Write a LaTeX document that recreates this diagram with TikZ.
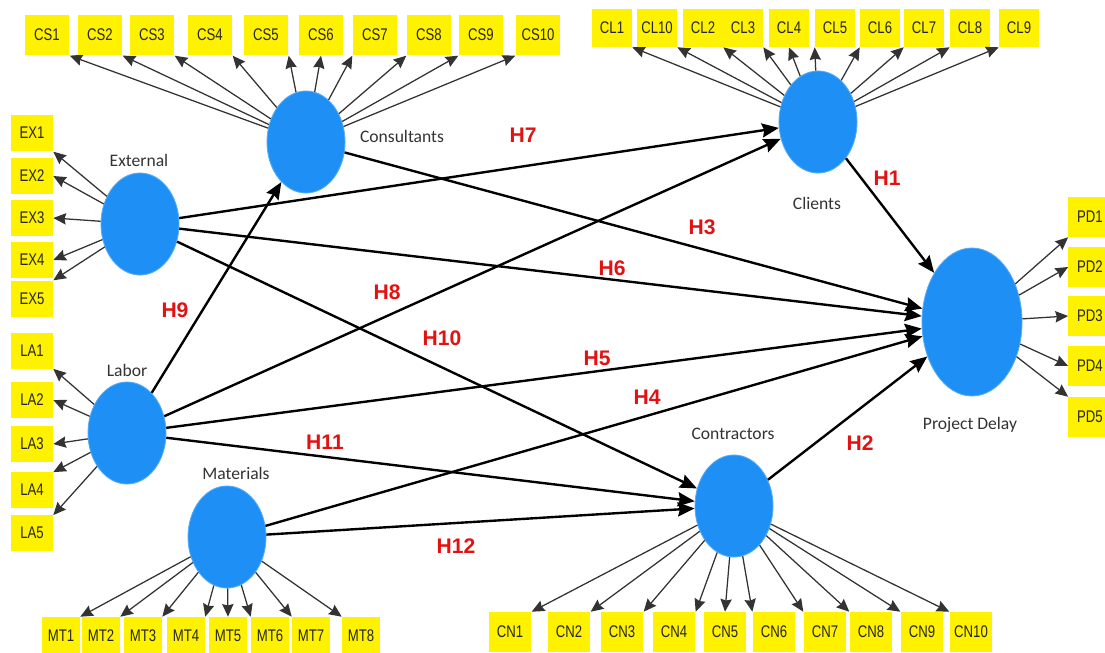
\documentclass[tikz,border=0pt]{standalone}
\usepackage{fontspec}
\setmainfont{Liberation Sans}
\newfontfamily\narrowfont[FakeStretch=0.78]{Liberation Sans}
\newfontfamily\latfont{Carlito}
\usetikzlibrary{shapes.geometric,arrows.meta}
\definecolor{latblue}{RGB}{30,144,245}
\definecolor{hred}{RGB}{226,18,18}
\tikzset{
  lat/.style={ellipse,fill=latblue,draw=latblue!75!white,line width=0.6pt,inner sep=0pt,minimum width=1.95cm,minimum height=2.55cm},
  ind/.style={fill=yellow,inner sep=0pt,minimum width=1.05cm,minimum height=0.95cm,font=\narrowfont\fontsize{12}{12}\selectfont,text=black!85},
  latname/.style={font=\latfont\fontsize{12.5}{13}\selectfont,text=black!80},
  hyp/.style={font=\bfseries\fontsize{15}{15}\selectfont,text=hred},
  path/.style={-{Stealth[length=12pt,width=10pt,inset=1.5pt]},line width=1.7pt},
  load/.style={-{Stealth[length=9pt,width=8pt,inset=1pt]},line width=0.9pt,black!80},
}
\begin{document}
\begin{tikzpicture}[x=0.025cm,y=-0.025cm]
\clip (0,0) rectangle (1105,652);
% latent variables
\node[lat] (cons) at (306,142) {};
\node[lat] (ext) at (140,224) {};
\node[lat] (lab) at (127,433) {};
\node[lat] (mat) at (227,537) {};
\node[lat] (cli) at (818,122) {};
\node[lat] (con) at (734,506) {};
\node[lat,minimum width=2.5cm,minimum height=3.7cm] (pd) at (972,322) {};
\node[latname] at (402,136) {Consultants};
\node[latname] at (139,160) {External};
\node[latname] at (127,370) {Labor};
\node[latname] at (236,473) {Materials};
\node[latname] at (817,203) {Clients};
\node[latname] at (733,434) {Contractors};
\node[latname] at (970,425) {Project Delay};
% indicators
\foreach \n/\x/\a in {1/47/south east,2/100/south east,3/152/south east,4/210/south east,5/266/south east,6/321/south,7/375/south west,8/429/south west,9/481/south west,10/538/south west}{
  \node[ind,minimum width=1.12cm,minimum height=1.02cm] (cs\n) at (\x,35) {CS\n};
  \draw[load] (cons) -- (cs\n.\a);
}
\foreach \n/\x/\a in {1/612/south east,10/657/south east,2/703/south east,3/743/south east,4/789/south,5/835/south west,6/880/south west,7/924/south west,8/970/south west,9/1019/south west}{
  \node[ind,minimum width=1cm] (cl\n) at (\x,28) {CL\n};
  \draw[load] (cli) -- (cl\n.\a);
}
\foreach \n/\y/\a in {1/133/south east,2/176/east,3/218/east,4/260/east,5/299/north east}{
  \node[ind,minimum height=0.92cm] (ex\n) at (32,\y) {EX\n};
  \draw[load] (ext) -- (ex\n.\a);
}
\foreach \n/\y/\a in {1/351/south east,2/400/east,3/444/east,4/490/north east,5/533/north east}{
  \node[ind,minimum height=0.88cm] (la\n) at (32,\y) {LA\n};
  \draw[load] (lab) -- (la\n.\a);
}
\foreach \n/\x/\a in {1/61/north east,2/101/north east,3/143/north east,4/186/north east,5/228/north,6/270/north west,7/311/north west,8/361/north west}{
  \node[ind,minimum width=0.95cm] (mt\n) at (\x,636) {MT\n};
  \draw[load] (mat) -- (mt\n.\a);
}
\foreach \n/\x/\a in {1/510/north east,2/569/north east,3/622/north east,4/674/north east,5/725/north,6/774/north west,7/825/north west,8/871/north west,9/922/north west,10/971/north west}{
  \node[ind,minimum width=1.07cm,minimum height=1cm] (cn\n) at (\x,632) {CN\n};
  \draw[load] (con) -- (cn\n.\a);
}
\foreach \n/\y/\a in {1/217/south west,2/267/west,3/316/west,4/366/west,5/417/north west}{
  \node[ind,minimum width=1.08cm,minimum height=1cm] (pd\n) at (1090,\y) {PD\n};
  \draw[load] (pd) -- (pd\n.\a);
}
% structural paths
\draw[path] (cli) -- (pd);
\draw[path] (con) -- (pd);
\draw[path] (cons) -- (pd);
\draw[path] (mat) -- (pd);
\draw[path] (lab) -- (pd);
\draw[path] (ext) -- (pd);
\draw[path] (ext) -- (cli);
\draw[path] (lab) -- (cli);
\draw[path] (lab) -- (cons);
\draw[path] (ext) -- (con);
\draw[path] (lab) -- (con);
\draw[path] (mat) -- (con);
\node[hyp] at (887,178) {H1};
\node[hyp] at (860,443) {H2};
\node[hyp] at (702,227) {H3};
\node[hyp] at (647,397) {H4};
\node[hyp] at (597,358) {H5};
\node[hyp] at (612,268) {H6};
\node[hyp] at (523,135) {H7};
\node[hyp] at (387,292) {H8};
\node[hyp] at (175,310) {H9};
\node[hyp] at (442,338) {H10};
\node[hyp] at (325,442) {H11};
\node[hyp] at (456,546) {H12};
\end{tikzpicture}
\end{document}
